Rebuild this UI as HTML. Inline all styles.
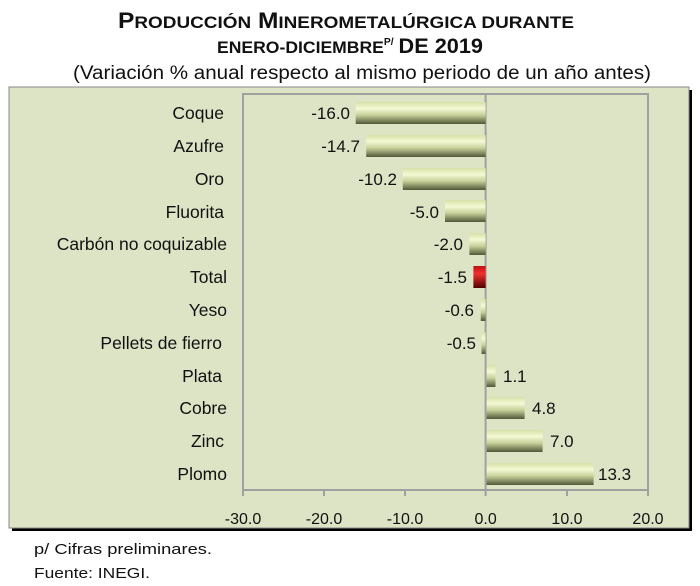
<!DOCTYPE html>
<html><head><meta charset="utf-8"><style>
body{margin:0;width:700px;height:586px;background:#fff;overflow:hidden}
svg{display:block}
</style></head><body>
<svg width="700" height="586" xmlns="http://www.w3.org/2000/svg" font-family="Liberation Sans, sans-serif">
<defs>
<linearGradient id="g" x1="0" y1="0" x2="0" y2="1">
<stop offset="0" stop-color="#d6e0a8"/><stop offset="0.3" stop-color="#f4f9d4"/><stop offset="0.6" stop-color="#c6cf98"/><stop offset="1" stop-color="#4f5838"/>
</linearGradient>
<linearGradient id="r" x1="0" y1="0" x2="0" y2="1">
<stop offset="0" stop-color="#c01010"/><stop offset="0.35" stop-color="#f03030"/><stop offset="1" stop-color="#500000"/>
</linearGradient>
</defs>
<g font-weight="bold" fill="#111">
<text x="118" y="28" font-size="22" textLength="456" lengthAdjust="spacingAndGlyphs">P<tspan font-size="17">RODUCCIÓN</tspan> M<tspan font-size="17">INEROMETALÚRGICA DURANTE</tspan></text>
<text x="217" y="53" font-size="17" textLength="266" lengthAdjust="spacingAndGlyphs">ENERO-DICIEMBRE<tspan font-size="10" dy="-8">P/</tspan><tspan dy="8"> </tspan><tspan font-size="21">DE 2019</tspan></text>
</g>
<text x="73" y="79" font-size="19" textLength="578" lengthAdjust="spacingAndGlyphs" fill="#111">(Variación % anual respecto al mismo periodo de un año antes)</text>
<rect x="12" y="90" width="680" height="441" fill="#000"/>
<rect x="9" y="87" width="680" height="441" fill="#dce4c5" stroke="#888" stroke-width="1"/>
<rect x="243" y="94" width="405" height="396" fill="none" stroke="#a0a0a0" stroke-width="2"/>
<line x1="485.6" y1="94" x2="485.6" y2="490" stroke="#a0a0a0" stroke-width="2"/>
<g stroke="#a0a0a0" stroke-width="2">
<line x1="243" y1="490" x2="243" y2="496"/><line x1="324" y1="490" x2="324" y2="496"/><line x1="405" y1="490" x2="405" y2="496"/><line x1="485.6" y1="490" x2="485.6" y2="496"/><line x1="567" y1="490" x2="567" y2="496"/><line x1="648" y1="490" x2="648" y2="496"/>
</g>
<g font-size="16" fill="#111" text-anchor="middle">
<text x="243" y="524">-30.0</text><text x="324" y="524">-20.0</text><text x="405" y="524">-10.0</text><text x="485.6" y="524">0.0</text><text x="567" y="524">10.0</text><text x="648" y="524">20.0</text>
</g>
<text x="34" y="554" font-size="15" fill="#111" textLength="178" lengthAdjust="spacingAndGlyphs">p/ Cifras preliminares.</text>
<text x="34" y="578" font-size="15" fill="#111" textLength="116" lengthAdjust="spacingAndGlyphs">Fuente: INEGI.</text>
<g font-size="17.5" fill="#111" text-anchor="end">
<text x="224" y="119">Coque</text>
<text x="224" y="152">Azufre</text>
<text x="224" y="185">Oro</text>
<text x="224" y="218">Fluorita</text>
<text x="227" y="250">Carbón no coquizable</text>
<text x="227" y="283">Total</text>
<text x="227" y="316">Yeso</text>
<text x="222" y="349">Pellets de fierro</text>
<text x="222" y="382">Plata</text>
<text x="227" y="414">Cobre</text>
<text x="224" y="447">Zinc</text>
<text x="227" y="480">Plomo</text>
</g>
<g font-size="17" fill="#111">
<rect x="355.7" y="102" width="129.9" height="22" fill="url(#g)"/><text x="350" y="119" text-anchor="end">-16.0</text>
<rect x="366.2" y="135" width="119.4" height="22" fill="url(#g)"/><text x="360" y="152" text-anchor="end">-14.7</text>
<rect x="402.8" y="168" width="82.8" height="22" fill="url(#g)"/><text x="397" y="185" text-anchor="end">-10.2</text>
<rect x="445" y="200" width="40.6" height="22" fill="url(#g)"/><text x="439" y="218" text-anchor="end">-5.0</text>
<rect x="469.4" y="233" width="16.2" height="22" fill="url(#g)"/><text x="463" y="250" text-anchor="end">-2.0</text>
<rect x="473.4" y="266" width="12.2" height="22" fill="url(#r)"/><text x="467" y="283" text-anchor="end">-1.5</text>
<rect x="480.7" y="299" width="4.9" height="22" fill="url(#g)"/><text x="474" y="316" text-anchor="end">-0.6</text>
<rect x="481.5" y="332" width="4.1" height="22" fill="url(#g)"/><text x="476" y="349" text-anchor="end">-0.5</text>
<rect x="486.6" y="365" width="8.9" height="22" fill="url(#g)"/><text x="503" y="382">1.1</text>
<rect x="486.6" y="397" width="38" height="22" fill="url(#g)"/><text x="532" y="414">4.8</text>
<rect x="486.6" y="430" width="56" height="22" fill="url(#g)"/><text x="550" y="447">7.0</text>
<rect x="486.6" y="463" width="107" height="22" fill="url(#g)"/><text x="598" y="480">13.3</text>
</g>
</svg>
</body></html>
